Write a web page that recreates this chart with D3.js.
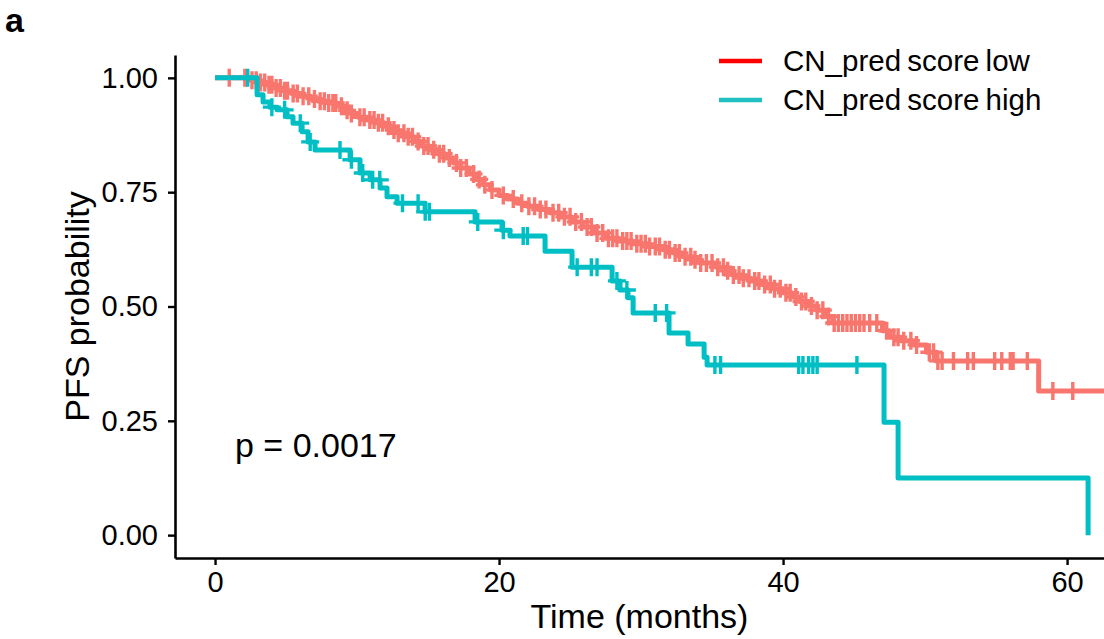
<!DOCTYPE html>
<html>
<head>
<meta charset="utf-8">
<script src="https://cdn.jsdelivr.net/npm/d3@7"></script>
<style>
  html, body { margin: 0; padding: 0; background: #fff; }
  svg { display: block; font-family: 'Liberation Sans', Arial, Helvetica, sans-serif; }
</style>
</head>
<body>
<div id="chart"></div>
<script>
// Group labels and colours
const groups = ['CN_pred score low', 'CN_pred score high'];
const legendColours = ['#ff0000', '#1fbfc2'];
const curveColours = ['#f8766d', '#00bfc4'];

// KM steps, low score group: event time (months) and survival after the drop
const lowTime = [2.5, 3.0, 3.6, 4.2, 4.8, 5.4, 6.0, 6.7, 7.3, 8.0, 8.6, 9.1, 9.6, 10.1, 10.7, 11.3, 11.9, 12.4,
  12.9, 13.5, 14.0, 14.5, 15.1, 15.7, 16.2, 16.8, 17.3, 17.9, 18.4, 18.9, 19.4, 20.0, 20.6, 21.3, 22.0, 22.8,
  23.6, 24.3, 25.1, 25.9, 26.7, 27.5, 28.4, 29.4, 30.5, 31.6, 32.3, 33.0, 33.6, 34.2, 35.3, 35.9, 36.5, 37.1,
  37.7, 38.5, 39.3, 40.0, 40.6, 41.2, 41.8, 42.4, 43.0, 43.5, 47.0, 47.5, 48.3, 49.2, 50.1, 50.8, 58.0];
const lowSurv = [0.995, 0.990, 0.985, 0.978, 0.972, 0.966, 0.960, 0.954, 0.949, 0.945, 0.938, 0.929, 0.922, 0.914,
  0.908, 0.902, 0.894, 0.886, 0.879, 0.871, 0.861, 0.851, 0.843, 0.834, 0.825, 0.814, 0.803, 0.790, 0.778, 0.766,
  0.755, 0.743, 0.735, 0.726, 0.719, 0.712, 0.705, 0.696, 0.685, 0.674, 0.661, 0.649, 0.643, 0.637, 0.631, 0.624,
  0.617, 0.609, 0.602, 0.595, 0.586, 0.578, 0.569, 0.562, 0.556, 0.548, 0.539, 0.530, 0.521, 0.511, 0.501, 0.492,
  0.478, 0.464, 0.447, 0.433, 0.425, 0.416, 0.400, 0.381, 0.315];
const lowCensor = [1.0, 2.1, 2.6, 2.9, 3.2, 3.5, 3.8, 4.0, 4.3, 4.6, 4.9, 5.1, 5.5, 5.8, 6.2, 6.6, 7.0, 7.4, 7.7,
  8.0, 8.3, 8.5, 8.9, 9.3, 9.6, 10.2, 10.5, 10.9, 11.2, 11.5, 11.8, 12.2, 12.6, 12.9, 13.3, 13.6, 13.9, 14.3, 14.7,
  15.0, 15.4, 15.8, 16.1, 16.5, 17.0, 17.3, 17.7, 18.2, 18.6, 19.0, 19.5, 20.3, 21.0, 21.6, 22.1, 22.5, 22.9, 23.3,
  23.8, 24.2, 24.6, 25.0, 25.4, 25.8, 26.2, 26.5, 26.9, 27.3, 27.7, 28.0, 28.3, 28.7, 29.0, 29.3, 29.7, 30.0, 30.3,
  30.6, 31.0, 31.3, 31.7, 32.0, 32.4, 32.7, 33.1, 33.5, 33.8, 34.2, 34.6, 35.0, 35.4, 35.8, 36.1, 36.5, 36.9, 37.2,
  37.6, 38.0, 38.3, 38.7, 39.1, 39.4, 39.8, 40.2, 40.5, 40.9, 41.3, 41.6, 42.0, 42.4, 42.8, 43.2, 43.6, 43.9, 44.2,
  44.5, 44.8, 45.1, 45.4, 45.7, 46.1, 46.6, 47.3, 47.8, 48.1, 48.5, 49.0, 49.4, 50.3, 50.6, 50.9, 51.2, 52.0, 53.0,
  53.4, 54.9, 55.4, 56.0, 56.2, 57.2, 59.0, 60.4];
const lowEnd = 63;

// KM steps, high score group
const highTime = [2.96, 3.38, 3.87, 4.37, 5.07, 5.49, 6.13, 6.55, 7.04, 9.51, 10.21, 10.92, 11.62, 12.11, 12.82,
  14.79, 18.31, 20.21, 20.77, 23.24, 25.14, 27.96, 28.52, 29.08, 29.44, 31.97, 33.31, 34.44, 34.65, 47.11, 48.10, 61.48];
const highSurv = [0.963, 0.947, 0.936, 0.930, 0.915, 0.901, 0.882, 0.860, 0.842, 0.821, 0.792, 0.777, 0.759, 0.740,
  0.726, 0.707, 0.685, 0.667, 0.654, 0.621, 0.586, 0.556, 0.536, 0.519, 0.486, 0.442, 0.418, 0.389, 0.372, 0.247,
  0.125, 0.0];
const highCensor = [2.3, 4.0, 4.9, 6.0, 6.7, 8.8, 9.6, 10.4, 11.1, 11.6, 13.2, 14.3, 14.8, 15.1, 18.5, 20.3, 21.7,
  22.0, 25.5, 26.5, 26.9, 28.3, 29.0, 31.0, 31.8, 35.2, 35.6, 41.1, 41.4, 41.8, 42.1, 42.4, 45.2];
const highEnd = 61.48;

const xTicks = [0, 20, 40, 60];
const yTicks = [0, 0.25, 0.5, 0.75, 1];
const pLabel = 'p = 0.0017';

const width = 1104;
const height = 639;
const panel = { left: 175, right: 1104, top: 55, bottom: 558 };

const x = d3.scaleLinear().domain([-2.82, 62.6]).range([panel.left, panel.right]);
const y = d3.scaleLinear().domain([-0.05, 1.05]).range([panel.bottom, panel.top]);

const svg = d3.select('#chart')
  .append('svg')
  .attr('width', width)
  .attr('height', height);

svg.append('rect').attr('width', width).attr('height', height).attr('fill', '#fff');

// Build step points for one group, starting at (0, 1) and running to last follow-up
function stepPoints(times, surv, end) {
  const pts = [[0, 1]];
  times.forEach((t, i) => pts.push([t, surv[i]]));
  if (end > times[times.length - 1]) pts.push([end, surv[surv.length - 1]]);
  return pts;
}

// Survival value of the step function at time t
function survAt(times, surv, t) {
  let s = 1;
  times.forEach((tt, i) => { if (tt <= t) s = surv[i]; });
  return s;
}

const line = d3.line()
  .x(d => x(d[0]))
  .y(d => y(d[1]))
  .curve(d3.curveStepAfter);

const series = [
  { times: lowTime, surv: lowSurv, censor: lowCensor, end: lowEnd, colour: curveColours[0] },
  { times: highTime, surv: highSurv, censor: highCensor, end: highEnd, colour: curveColours[1] },
];

const plot = svg.append('g');

series.forEach((s) => {
  plot.append('path')
    .datum(stepPoints(s.times, s.surv, s.end))
    .attr('d', line)
    .attr('fill', 'none')
    .attr('stroke', s.colour)
    .attr('stroke-width', 5)
    .attr('stroke-linejoin', 'round');

  const arm = 9;
  plot.append('g')
    .selectAll('path')
    .data(s.censor)
    .join('path')
    .attr('d', (t) => {
      const cx = x(t);
      const cy = y(survAt(s.times, s.surv, t));
      return `M${cx - arm},${cy}H${cx + arm}M${cx},${cy - arm}V${cy + arm}`;
    })
    .attr('stroke', s.colour)
    .attr('stroke-width', 3.4)
    .attr('fill', 'none');
});

// Axes
const yAxis = svg.append('g')
  .attr('transform', `translate(${panel.left},0)`)
  .call(d3.axisLeft(y).tickValues(yTicks).tickFormat(d3.format('.2f')).tickSize(7).tickSizeOuter(0).tickPadding(10));

const xAxis = svg.append('g')
  .attr('transform', `translate(0,${panel.bottom})`)
  .call(d3.axisBottom(x).tickValues(xTicks).tickFormat(d3.format('d')).tickSize(7).tickSizeOuter(0).tickPadding(6));

[xAxis, yAxis].forEach((ax) => {
  ax.select('.domain').attr('stroke', '#000').attr('stroke-width', 2.6);
  ax.selectAll('.tick line').attr('stroke', '#000').attr('stroke-width', 2.4);
  ax.selectAll('.tick text')
    .attr('fill', '#000')
    .style('font-size', '29px')
    .style('font-family', "'Liberation Sans', Arial, sans-serif");
});

// Axis titles
svg.append('text')
  .attr('x', (panel.left + panel.right) / 2)
  .attr('y', 628)
  .attr('text-anchor', 'middle')
  .style('font-size', '34px')
  .text('Time (months)');

svg.append('text')
  .attr('transform', `translate(89,${(panel.top + panel.bottom) / 2}) rotate(-90)`)
  .attr('text-anchor', 'middle')
  .style('font-size', '34px')
  .text('PFS probability');

// p-value
svg.append('text')
  .attr('x', 235)
  .attr('y', 457)
  .style('font-size', '34px')
  .text(pLabel);

// Panel tag
svg.append('text')
  .attr('x', 5)
  .attr('y', 32)
  .style('font-size', '34px')
  .style('font-weight', 'bold')
  .text('a');

// Legend
const legend = svg.append('g')
  .selectAll('g')
  .data(groups)
  .join('g')
  .attr('transform', (d, i) => `translate(719,${61 + i * 39})`);

legend.append('line')
  .attr('x1', 0)
  .attr('x2', 43)
  .attr('stroke', (d, i) => legendColours[i])
  .attr('stroke-width', 4.5);

legend.append('text')
  .attr('x', 64)
  .attr('y', 10)
  .style('font-size', '29.5px')
  .style('word-spacing', '-2px')
  .text(d => d);
</script>
</body>
</html>
